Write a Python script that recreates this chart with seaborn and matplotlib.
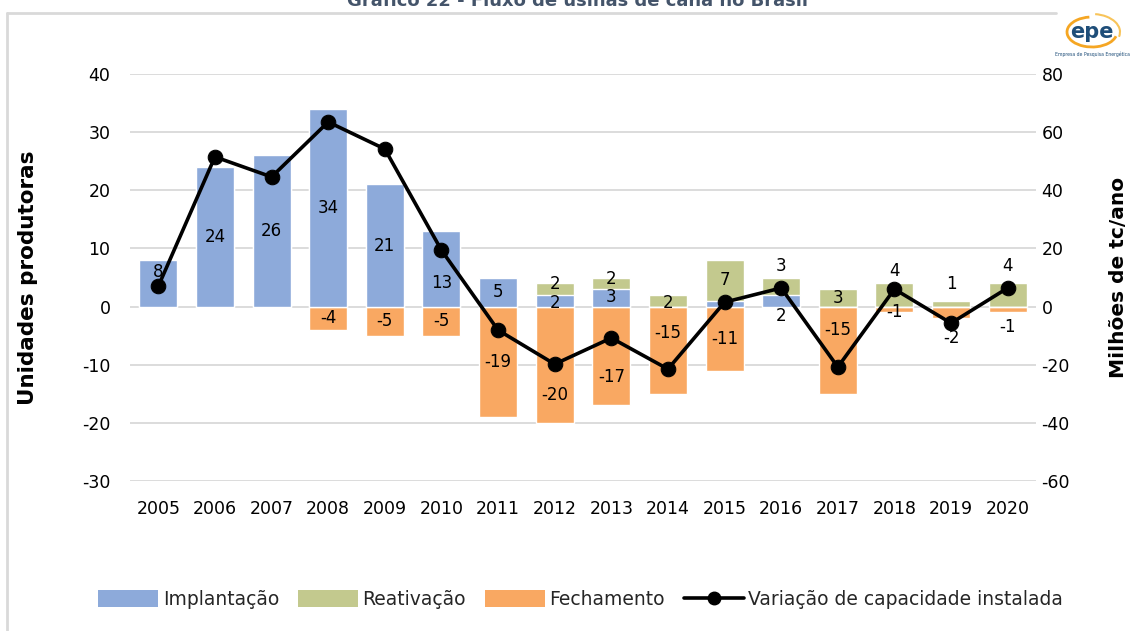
import numpy as np
import pandas as pd
import matplotlib
matplotlib.use("Agg")
import matplotlib.pyplot as plt
import seaborn as sns
from matplotlib.patches import Patch, Arc
from matplotlib.lines import Line2D

# ---------------- data ----------------
years = [2005, 2006, 2007, 2008, 2009, 2010, 2011, 2012, 2013, 2014, 2015, 2016, 2017, 2018, 2019, 2020]
implantacao = [8, 24, 26, 34, 21, 13, 5, 2, 3, 0, 1, 2, 0, 0, 0, 0]
reativacao = [0, 0, 0, 0, 0, 0, 0, 2, 2, 2, 7, 3, 3, 4, 1, 4]
fechamento = [0, 0, 0, -4, -5, -5, -19, -20, -17, -15, -11, 0, -15, -1, -2, -1]
capacidade = [7.0, 51.5, 44.6, 63.5, 54.2, 19.4, -8.1, -19.8, -10.8, -21.5, 1.5, 6.4, -20.8, 6.0, -5.7, 6.4]

left_ticks = [-30, -20, -10, 0, 10, 20, 30, 40]
right_ticks = [-60, -40, -20, 0, 20, 40, 60, 80]

title = "Gráfico 22 - Fluxo de usinas de cana no Brasil"
series_names = ["Implantação", "Reativação", "Fechamento", "Variação de capacidade instalada"]

# ---------------- style ----------------
sns.set_theme(style="white")
plt.rcParams["font.family"] = ["DejaVu Sans"]
plt.rcParams["axes.unicode_minus"] = False

c_blue = "#8DAADA"
c_green = "#C3C98E"
c_orange = "#F9A862"
c_grid = "#D9D9D9"

df = pd.DataFrame({
    "ano": [str(y) for y in years],
    "impl": implantacao,
    "reat": reativacao,
    "total_pos": np.array(implantacao) + np.array(reativacao),
    "fech": fechamento,
})

fig = plt.figure(figsize=(11.32, 6.31), dpi=100)
ax = fig.add_axes([130 / 1132, 150 / 631, 906 / 1132, 407 / 631])

bw = 0.67
sns.barplot(data=df, x="ano", y="total_pos", color=c_green, width=bw, saturation=1, ax=ax, zorder=2)
sns.barplot(data=df, x="ano", y="impl", color=c_blue, width=bw, saturation=1, ax=ax, zorder=3)
sns.barplot(data=df, x="ano", y="fech", color=c_orange, width=bw, saturation=1, ax=ax, zorder=2)

ax.set_ylim(-30, 40)
ax.set_yticks(left_ticks)
ax.set_xlim(-0.5, len(years) - 0.5)
ax.yaxis.grid(True, color=c_grid, linewidth=1.3, zorder=0)
ax.set_axisbelow(True)
for s in ax.spines.values():
    s.set_visible(False)
ax.tick_params(axis="both", length=0, labelsize=12.5, colors="black")
ax.tick_params(axis="y", pad=14)
ax.tick_params(axis="x", pad=14)
ax.set_xlabel("")
ax.set_ylabel("Unidades produtoras", fontsize=15.5, fontweight="bold", color="black")
ax.yaxis.set_label_coords(-0.1015, 0.5)

# data labels (placement tweaks mimic the reference, which moves labels away from markers)
lab_fs = 12
blue_override = {2005: 6.0, 2010: 4.0, 2012: 0.6, 2013: 1.6, 2016: -1.7}
green_override = {2012: 3.9, 2013: 4.7, 2014: 0.6, 2016: 6.9, 2018: 6.1, 2019: 3.9, 2020: 7.0}
orange_override = {2012: -15.2, 2013: -12.1, 2014: -4.5, 2017: -4.0, 2018: -1.0, 2019: -5.4, 2020: -3.5}
for i, yr in enumerate(years):
    v = implantacao[i]
    if v > 0:
        yy = blue_override.get(yr, v / 2)
        ax.text(i, yy, f"{v}", ha="center", va="center", fontsize=lab_fs, color="black", zorder=4)
    v = reativacao[i]
    if v > 0:
        yy = green_override.get(yr, implantacao[i] + v / 2)
        ax.text(i, yy, f"{v}", ha="center", va="center", fontsize=lab_fs, color="black", zorder=4)
    v = fechamento[i]
    if v < 0:
        yy = orange_override.get(yr, v / 2)
        ax.text(i, yy, f"{v}", ha="center", va="center", fontsize=lab_fs, color="black", zorder=4)

# secondary axis line
ax2 = ax.twinx()
sns.lineplot(x=np.arange(len(years)), y=capacidade, ax=ax2, color="black", linewidth=2.6,
             marker="o", markersize=10.5, markeredgecolor="black", sort=False, legend=False)
ax2.set_ylim(-60, 80)
ax2.set_yticks(right_ticks)
for s in ax2.spines.values():
    s.set_visible(False)
ax2.tick_params(axis="y", length=0, labelsize=12.5, pad=4, colors="black")
ax2.set_ylabel("Milhões de tc/ano", fontsize=14.5, fontweight="bold", color="black")
ax2.yaxis.set_label_coords(1.081, 0.5)
ax2.grid(False)

# legend
handles = [
    Patch(facecolor=c_blue, edgecolor="none"),
    Patch(facecolor=c_green, edgecolor="none"),
    Patch(facecolor=c_orange, edgecolor="none"),
    Line2D([0], [0], color="black", linewidth=2.6, marker="o", markersize=9),
]
fig.legend(handles, series_names, loc="center", bbox_to_anchor=(0.513, 0.05), ncol=4,
           frameon=False, fontsize=13.5, handlelength=3.2, handleheight=1.0,
           handletextpad=0.25, columnspacing=1.0)

# frame lines
fig.add_artist(Line2D([7 / 1132, 7 / 1132], [0, 1 - 13 / 631], color=c_grid, linewidth=2, transform=fig.transFigure))
fig.add_artist(Line2D([7 / 1132, 1056 / 1132], [1 - 13 / 631, 1 - 13 / 631], color=c_grid, linewidth=2, transform=fig.transFigure))

# title (cut at top as in reference)
fig.text(0.51, 1 - 6 / 631, title, ha="center", va="baseline", fontsize=13, fontweight="bold", color="#44546A")

# logo
lax = fig.add_axes([1052 / 1132, 1 - 66 / 631, 80 / 1132, 58 / 631])
lax.set_xlim(0, 80)
lax.set_ylim(0, 58)
lax.axis("off")
lax.add_patch(Arc((40, 34), 50, 30, theta1=100, theta2=350, color="#F5A623", linewidth=2))
lax.add_patch(Arc((40, 34), 56, 36, theta1=-10, theta2=80, color="#F8C45A", linewidth=1.5))
lax.text(40, 34, "epe", ha="center", va="center", fontsize=15, fontweight="bold", color="#1F4E79")
lax.text(40, 12, "Empresa de Pesquisa Energética", ha="center", va="center", fontsize=3.3, color="#1F4E79")

fig.savefig("out.png", dpi=100)
